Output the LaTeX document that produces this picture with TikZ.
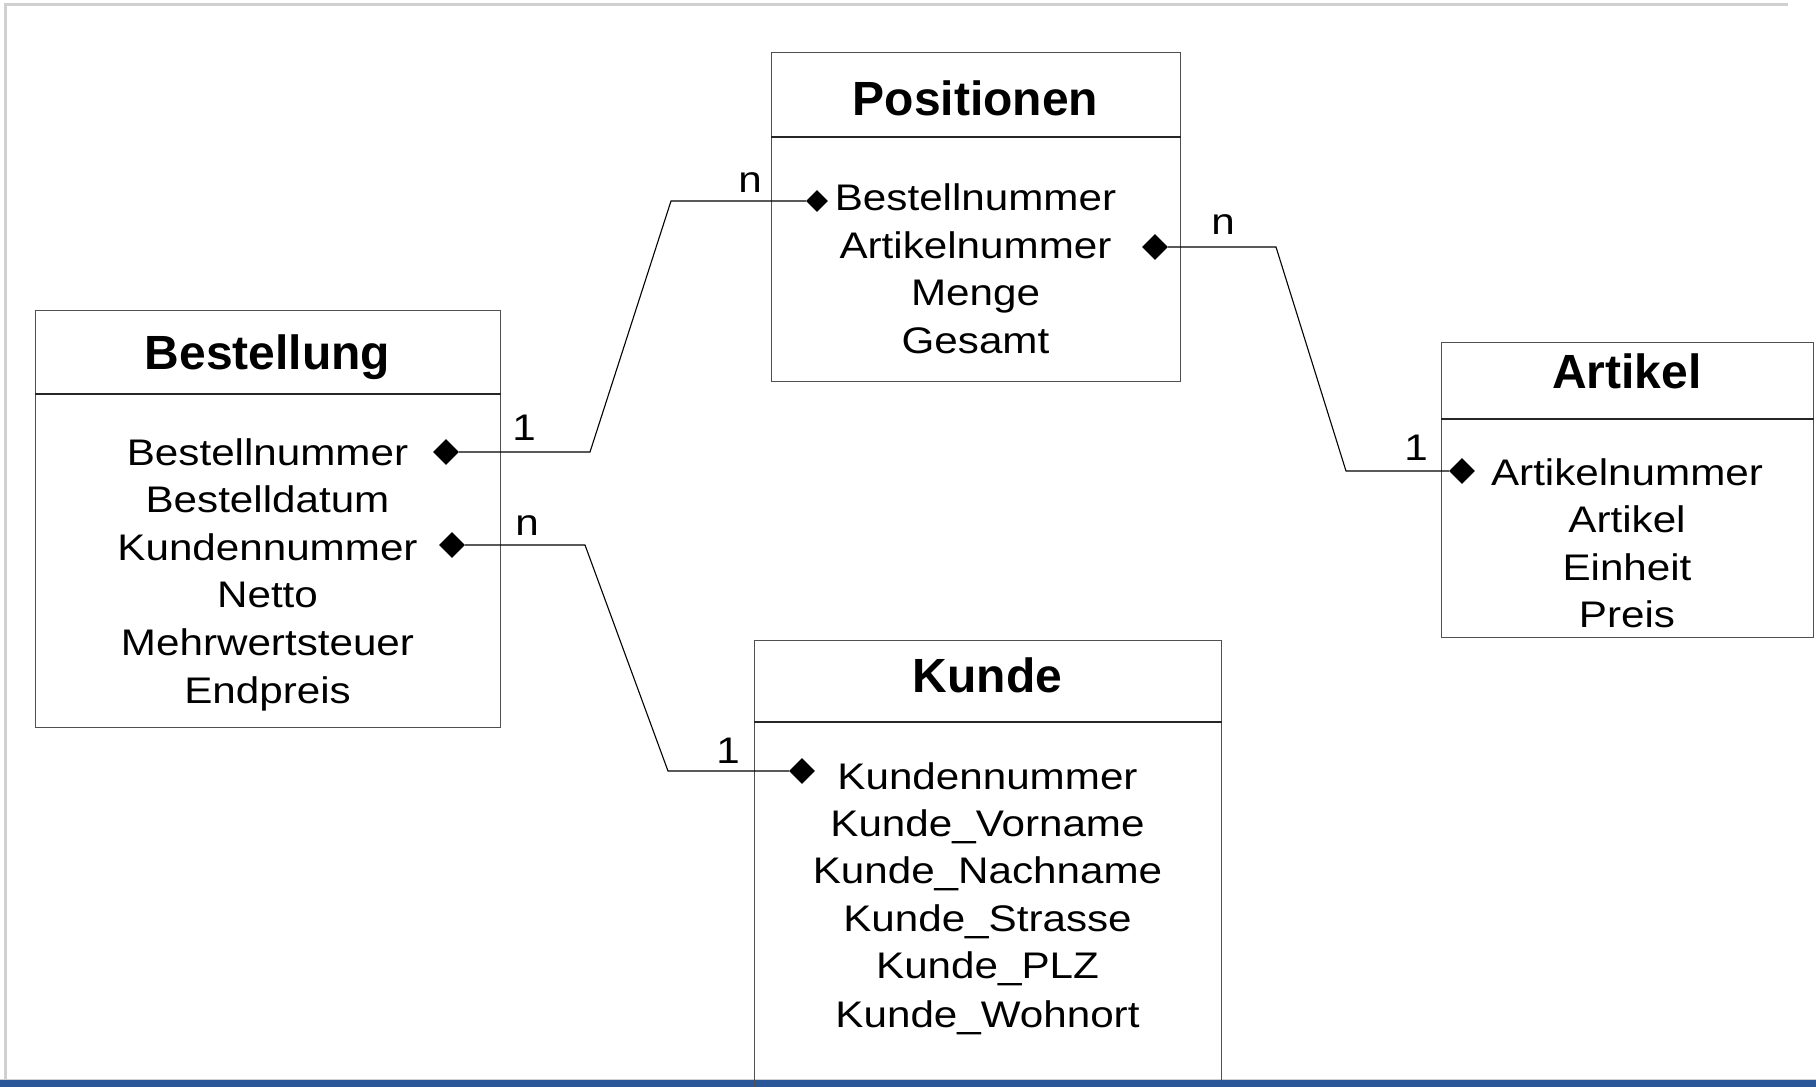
\documentclass[tikz,border=0pt]{standalone}
\usepackage{fontspec}
\setmainfont{Liberation Sans}[FakeStretch=1.14]
\newfontfamily\ttlfamily{Liberation Sans}
\usetikzlibrary{shapes.geometric}
\definecolor{framegray}{RGB}{208,208,208}
\definecolor{barblue}{RGB}{43,87,153}
\definecolor{boxgray}{RGB}{80,80,80}
\newcommand\attrfont{\fontsize{37}{44}\selectfont}
\newcommand\ttlfont{\ttlfamily\bfseries\fontsize{48}{56}\selectfont}
\tikzset{
  umlbox/.style={draw=boxgray, line width=1.3pt, rectangle, anchor=north west, inner sep=0},
  hdrline/.style={draw=black!85, line width=1.2pt},
  attr/.style={anchor=base, font=\attrfont, inner sep=0},
  ttl/.style={anchor=base, font=\ttlfont, inner sep=0},
  dia/.style={diamond, fill=black, draw=none, inner sep=0, minimum width=26pt, minimum height=26pt},
  conn/.style={draw=black, line width=1.1pt},
  card/.style={anchor=base, font=\attrfont, inner sep=0}
}
\begin{document}
\begin{tikzpicture}[x=1pt,y=-1pt]
\useasboundingbox (0,0) rectangle (1816,1087);
\clip (0,0) rectangle (1816,1087);
% frame
\draw[framegray, line width=3pt] (4,4) -- (1788,4);
\draw[framegray, line width=3pt] (5.5,4) -- (5.5,1080);
\fill[barblue] (0,1080) rectangle (1816,1087);
\draw[framegray, line width=1pt] (0,1079) -- (1816,1079);

% boxes
\node[umlbox, minimum width=465pt, minimum height=417pt] (bestellung) at (35,310) {};
\node[umlbox, minimum width=409pt, minimum height=329pt] (positionen) at (771,52) {};
\node[umlbox, minimum width=372pt, minimum height=295pt] (artikel) at (1441,342) {};
\node[umlbox, minimum width=467pt, minimum height=460pt] (kunde) at (754,640) {};

% header lines
\draw[hdrline] (bestellung.west |- 0,394) -- (bestellung.east |- 0,394);
\draw[hdrline] (positionen.west |- 0,137) -- (positionen.east |- 0,137);
\draw[hdrline] (artikel.west |- 0,419) -- (artikel.east |- 0,419);
\draw[hdrline] (kunde.west |- 0,722) -- (kunde.east |- 0,722);

% titles
\node[ttl] (tBest) at (267.5,369) {Bestellung};
\node[ttl] (tPos) at (975.5,115) {Positionen};
\node[ttl] (tArt) at (1627,388) {Artikel};
\node[ttl] (tKun) at (987.5,692) {Kunde};

% Bestellung attributes
\node[attr] (b1) at (267.5,465) {Bestellnummer};
\node[attr] (b2) at (267.5,512) {Bestelldatum};
\node[attr] (b3) at (267.5,560) {Kundennummer};
\node[attr] (b4) at (267.5,607) {Netto};
\node[attr] (b5) at (267.5,655) {Mehrwertsteuer};
\node[attr] (b6) at (267.5,703) {Endpreis};

% Positionen attributes
\node[attr] (p1) at (975.5,210) {Bestellnummer};
\node[attr] (p2) at (975.5,258) {Artikelnummer};
\node[attr] (p3) at (975.5,305) {Menge};
\node[attr] (p4) at (975.5,353) {Gesamt};

% Artikel attributes
\node[attr] (a1) at (1627,485) {Artikelnummer};
\node[attr] (a2) at (1627,532) {Artikel};
\node[attr] (a3) at (1627,580) {Einheit};
\node[attr] (a4) at (1627,627) {Preis};

% Kunde attributes
\node[attr] (k1) at (987.5,789) {Kundennummer};
\node[attr] (k2) at (987.5,836) {Kunde\_Vorname};
\node[attr] (k3) at (987.5,883) {Kunde\_Nachname};
\node[attr] (k4) at (987.5,931) {Kunde\_Strasse};
\node[attr] (k5) at (987.5,978) {Kunde\_PLZ};
\node[attr] (k6) at (987.5,1027) {Kunde\_Wohnort};

% diamonds
\node[dia] (dB1) at (446,452) {};
\node[dia] (dB2) at (452,545) {};
\node[dia, minimum width=22pt, minimum height=22pt] (dP1) at (817,201) {};
\node[dia] (dP2) at (1155,247) {};
\node[dia] (dA) at (1462,471) {};
\node[dia] (dK) at (802,771) {};

% connector bends
\coordinate (c1a) at (590,452);
\coordinate (c1b) at (671,201);
\coordinate (c2a) at (585,545);
\coordinate (c2b) at (668,771);
\coordinate (c3a) at (1276,247);
\coordinate (c3b) at (1346,471);

\draw[conn] (dB1.east) -- (c1a) -- (c1b) -- (dP1.west);
\draw[conn] (dB2.east) -- (c2a) -- (c2b) -- (dK.west);
\draw[conn] (dP2.east) -- (c3a) -- (c3b) -- (dA.west);

% cardinalities
\node[card] (m1) at (524,440) {1};
\node[card] (m2) at (527,535) {n};
\node[card] (m3) at (750,192) {n};
\node[card] (m4) at (1223,234) {n};
\node[card] (m5) at (1416,460) {1};
\node[card] (m6) at (728,763) {1};
\end{tikzpicture}
\end{document}
